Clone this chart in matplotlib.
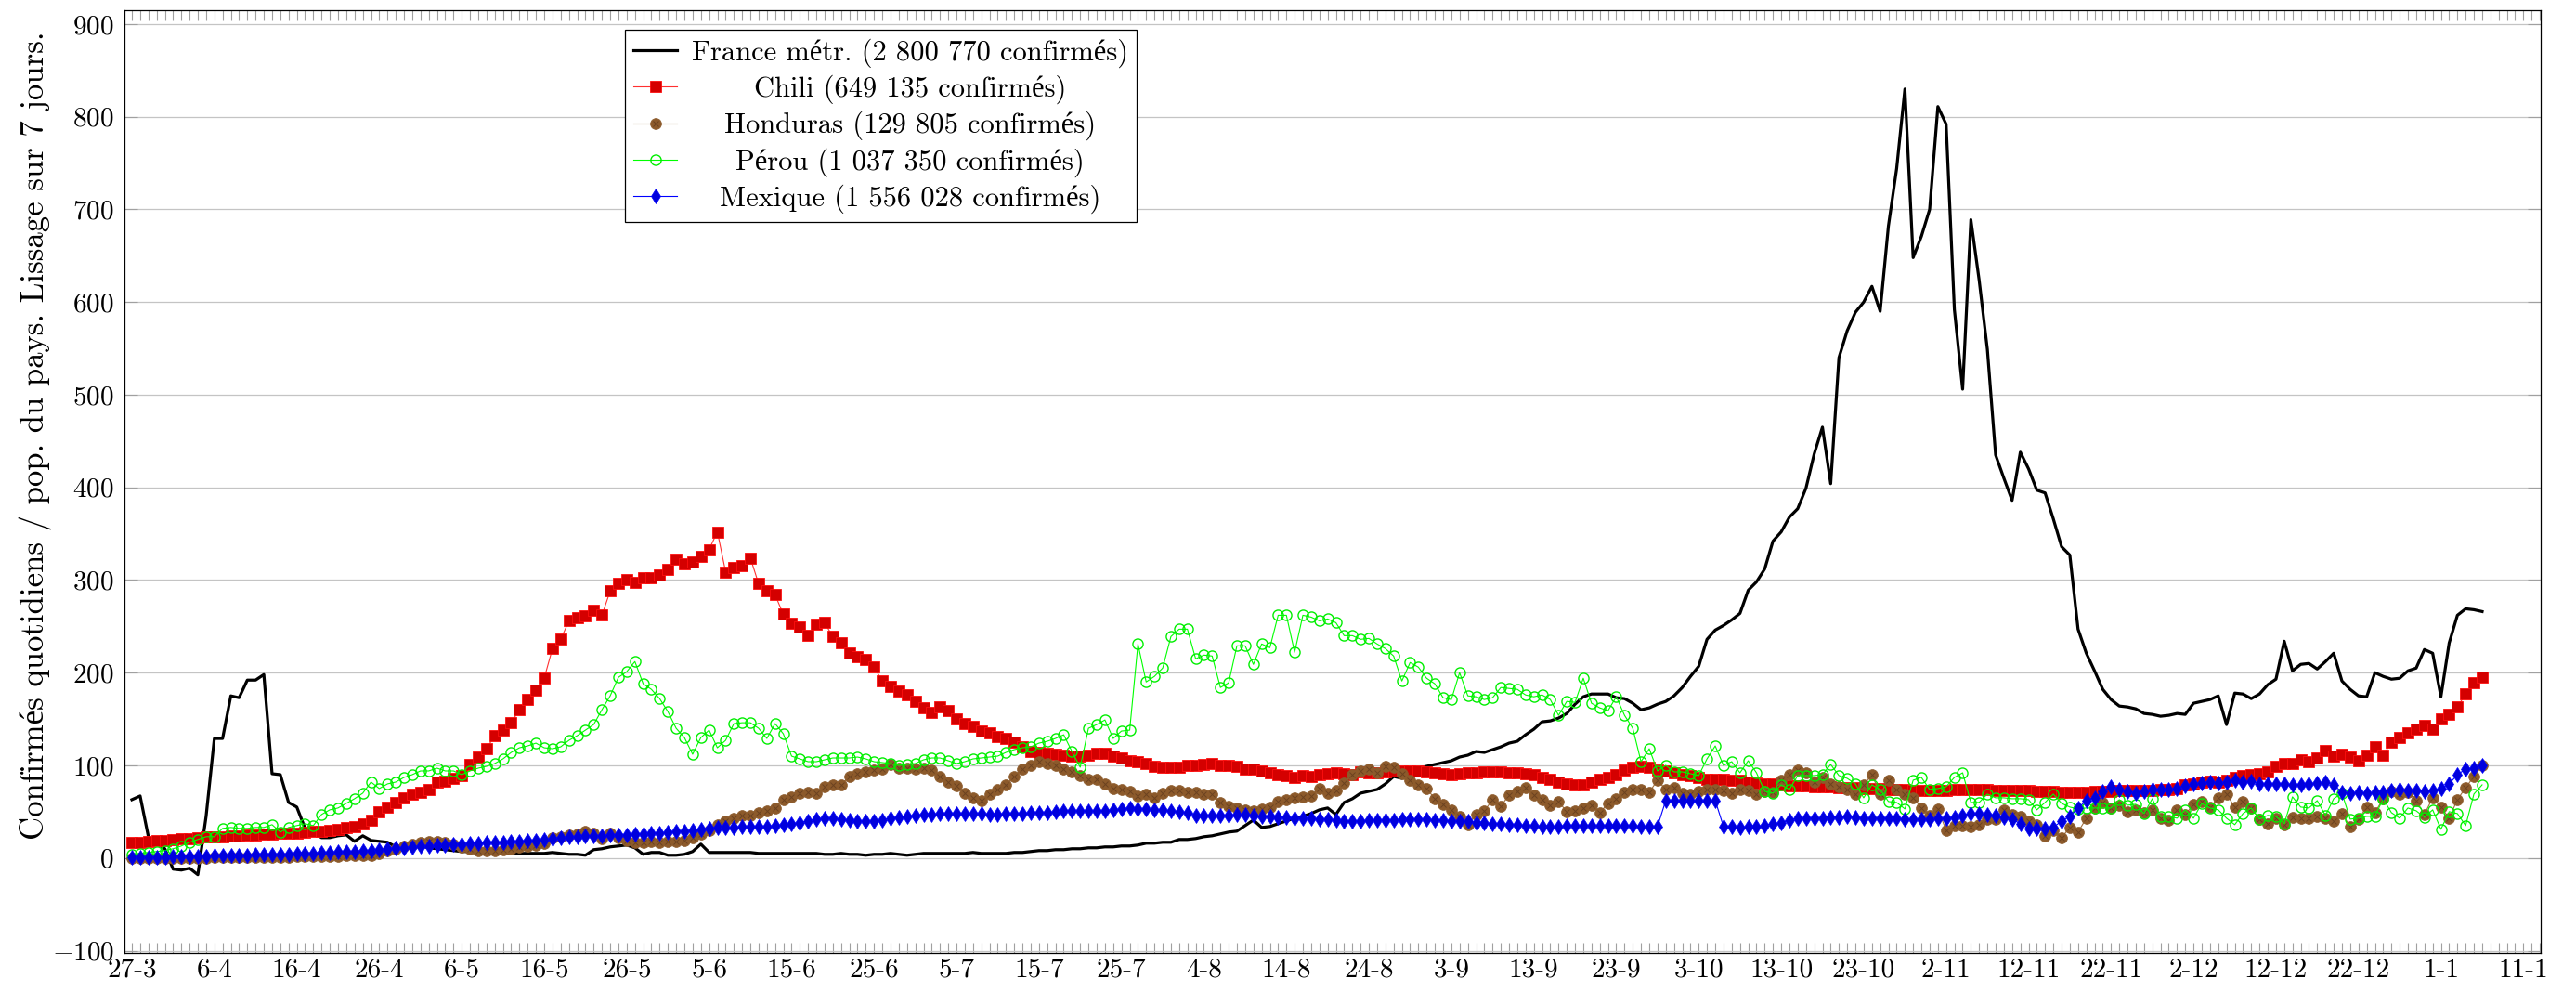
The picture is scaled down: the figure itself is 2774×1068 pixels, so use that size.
import matplotlib
matplotlib.use("Agg")
import matplotlib.pyplot as plt
import matplotlib.dates as mdates
import pandas as pd
from matplotlib.lines import Line2D
from matplotlib.legend_handler import HandlerTuple
from matplotlib.transforms import Affine2D

# daily values, 7-day smoothing, starting 27-3-2020
start = "2020-03-27"

france = [
    63, 67, 23, 16, 10, -12, -13, -11, -18, 45,
    129, 129, 175, 173, 192, 192, 198, 91, 90, 60,
    55, 32, 27, 22, 22, 24, 25, 18, 24, 19,
    18, 17, 12, 12, 14, 13, 11, 10, 9, 8,
    7, 7, 6, 6, 6, 6, 5, 5, 5, 5,
    5, 6, 5, 4, 4, 3, 9, 10, 12, 13,
    14, 11, 4, 6, 6, 3, 3, 4, 7, 15,
    6, 6, 6, 6, 6, 6, 5, 5, 5, 5,
    5, 5, 5, 5, 4, 4, 5, 4, 4, 3,
    4, 4, 5, 4, 3, 4, 5, 5, 5, 5,
    5, 5, 6, 5, 5, 5, 5, 6, 6, 7,
    8, 8, 9, 9, 10, 10, 11, 11, 12, 12,
    13, 13, 14, 16, 16, 17, 17, 20, 20, 21,
    23, 24, 26, 28, 29, 35, 41, 33, 34, 37,
    40, 43, 45, 48, 52, 54, 47, 60, 64, 70,
    72, 74, 80, 88, 86, 93, 97, 99, 101, 103,
    105, 109, 111, 115, 114, 117, 120, 124, 126, 133,
    139, 147, 148, 151, 156, 166, 174, 177, 177, 177,
    173, 172, 167, 160, 162, 166, 169, 175, 184, 196,
    207, 236, 246, 251, 257, 264, 289, 298, 312, 342,
    352, 368, 377, 399, 436, 465, 404, 540, 569, 589,
    600, 617, 590, 682, 744, 830, 648, 671, 700, 811,
    792, 592, 506, 689, 624, 549, 435, 410, 386, 438,
    420, 397, 394, 366, 336, 327, 247, 221, 202, 182,
    171, 164, 163, 161, 156, 155, 153, 154, 156, 155,
    167, 169, 171, 175, 144, 178, 177, 172, 177, 187,
    193, 234, 202, 209, 210, 204, 212, 221, 191, 182,
    175, 174, 200, 196, 193, 194, 202, 205, 225, 221,
    174, 232, 262, 269, 268, 266,
]

chili = [
    17, 17, 18, 19, 19, 20, 21, 21, 22, 23,
    23, 23, 24, 24, 25, 25, 26, 26, 27, 27,
    27, 28, 29, 29, 30, 31, 33, 34, 37, 41,
    50, 55, 60, 65, 69, 71, 74, 82, 83, 86,
    89, 101, 109, 118, 132, 138, 146, 160, 171, 181,
    194, 226, 236, 256, 259, 261, 267, 262, 288, 296,
    300, 297, 302, 302, 306, 312, 323, 318, 320, 326,
    333, 352, 309, 314, 316, 324, 296, 288, 284, 263,
    253, 249, 240, 252, 254, 239, 232, 221, 217, 214,
    206, 191, 185, 180, 176, 169, 162, 157, 163, 159,
    150, 145, 142, 137, 135, 131, 129, 125, 120, 115,
    114, 113, 112, 111, 110, 110, 111, 113, 113, 110,
    108, 105, 104, 102, 99, 98, 98, 98, 100, 100,
    101, 102, 100, 100, 99, 96, 96, 94, 92, 90,
    89, 87, 89, 88, 90, 91, 92, 91, 90, 93,
    92, 92, 93, 94, 94, 94, 94, 93, 92, 91,
    90, 91, 92, 92, 93, 93, 93, 92, 92, 91,
    90, 87, 85, 82, 80, 79, 79, 82, 85, 87,
    90, 95, 98, 99, 98, 95, 94, 92, 90, 89,
    87, 85, 85, 85, 84, 84, 82, 81, 80, 80,
    79, 78, 78, 78, 77, 77, 77, 76, 76, 76,
    75, 75, 75, 74, 74, 74, 73, 73, 73, 73,
    73, 74, 74, 74, 74, 74, 73, 73, 73, 73,
    73, 72, 72, 72, 71, 71, 71, 71, 72, 72,
    72, 73, 73, 73, 73, 73, 74, 74, 75, 79,
    80, 82, 83, 82, 84, 87, 89, 90, 91, 93,
    99, 102, 102, 106, 104, 108, 116, 110, 112, 109,
    105, 111, 120, 111, 125, 130, 135, 139, 143, 139,
    150, 155, 163, 177, 189, 195,
]

honduras = [
    0, 0, 0, 0, 0, 0, 0, 0, 0, 0,
    1, 1, 1, 1, 1, 1, 1, 1, 1, 1,
    2, 2, 2, 2, 2, 2, 3, 3, 3, 3,
    5, 8, 10, 13, 15, 17, 18, 18, 17, 15,
    12, 10, 8, 8, 8, 9, 10, 12, 13, 14,
    16, 22, 23, 25, 26, 29, 27, 21, 27, 22,
    19, 17, 17, 18, 17, 18, 18, 19, 22, 26,
    30, 36, 40, 43, 46, 46, 49, 51, 54, 63,
    66, 70, 71, 70, 77, 79, 79, 88, 91, 93,
    95, 96, 101, 97, 97, 96, 97, 95, 88, 82,
    78, 70, 65, 62, 69, 74, 79, 88, 96, 100,
    104, 102, 100, 96, 93, 89, 85, 85, 80, 75,
    74, 72, 67, 69, 65, 70, 73, 73, 71, 71,
    69, 69, 60, 56, 54, 52, 51, 53, 55, 61,
    63, 65, 66, 67, 75, 70, 73, 81, 90, 94,
    96, 92, 99, 98, 91, 84, 79, 75, 64, 58,
    52, 45, 36, 47, 51, 63, 56, 68, 72, 76,
    68, 63, 57, 61, 50, 51, 54, 57, 49, 59,
    64, 71, 74, 74, 71, 84, 74, 76, 70, 69,
    72, 74, 74, 73, 70, 74, 73, 69, 72, 71,
    84, 90, 95, 92, 82, 87, 80, 77, 74, 69,
    79, 90, 69, 84, 74, 69, 65, 54, 46, 53,
    30, 35, 35, 34, 36, 42, 42, 52, 47, 45,
    40, 36, 24, 30, 22, 33, 28, 43, 54, 60,
    54, 57, 50, 52, 49, 52, 43, 41, 52, 47,
    58, 61, 55, 65, 69, 55, 61, 54, 42, 37,
    43, 36, 44, 43, 43, 45, 43, 40, 48, 34,
    42, 55, 49, 64, 72, 69, 71, 62, 47, 65,
    55, 43, 63, 76, 88, 100,
]

perou = [
    4, 5, 6, 7, 8, 10, 13, 17, 20, 23,
    23, 32, 33, 32, 32, 33, 33, 36, 28, 33,
    35, 37, 35, 47, 52, 54, 59, 64, 70, 82,
    75, 80, 82, 87, 90, 94, 94, 97, 94, 94,
    90, 94, 97, 99, 102, 107, 114, 119, 121, 124,
    119, 118, 120, 127, 132, 138, 144, 160, 175, 195,
    201, 212, 188, 182, 172, 158, 140, 130, 112, 130,
    138, 119, 127, 145, 146, 146, 140, 129, 145, 134,
    110, 107, 104, 104, 106, 108, 108, 108, 109, 107,
    104, 103, 102, 100, 101, 102, 106, 108, 108, 105,
    102, 104, 107, 108, 109, 110, 114, 117, 119, 120,
    124, 126, 129, 133, 115, 98, 140, 144, 149, 129,
    137, 138, 231, 190, 196, 205, 239, 247, 247, 215,
    219, 218, 184, 189, 229, 229, 209, 231, 227, 262,
    262, 222, 262, 260, 256, 258, 254, 240, 240, 236,
    237, 231, 226, 218, 191, 211, 206, 194, 188, 173,
    171, 200, 175, 174, 171, 173, 184, 183, 182, 176,
    174, 176, 171, 154, 169, 168, 194, 167, 162, 159,
    174, 154, 140, 104, 118, 94, 100, 93, 93, 91,
    89, 107, 121, 100, 104, 92, 105, 92, 72, 70,
    79, 74, 89, 89, 89, 90, 101, 89, 86, 80,
    65, 79, 74, 61, 60, 53, 84, 87, 74, 75,
    77, 87, 92, 60, 60, 69, 65, 65, 64, 64,
    63, 52, 60, 69, 59, 55, 53, 54, 54, 54,
    54, 63, 57, 58, 48, 64, 45, 45, 43, 52,
    43, 59, 54, 52, 43, 36, 48, 54, 42, 46,
    45, 37, 66, 55, 54, 62, 46, 64, 70, 42,
    43, 45, 45, 64, 49, 43, 54, 51, 44, 52,
    31, 50, 48, 35, 69, 79,
]

mexique = [
    1, 1, 1, 1, 1, 2, 2, 2, 2, 2,
    3, 3, 3, 3, 3, 4, 4, 4, 4, 4,
    5, 5, 5, 6, 6, 7, 7, 7, 8, 8,
    9, 10, 11, 11, 12, 13, 13, 14, 14, 15,
    15, 16, 16, 17, 17, 17, 18, 18, 19, 19,
    20, 21, 22, 23, 23, 24, 24, 24, 25, 25,
    25, 26, 26, 27, 27, 28, 29, 29, 30, 31,
    32, 33, 33, 33, 34, 34, 34, 34, 35, 36,
    37, 38, 40, 42, 43, 43, 42, 41, 40, 40,
    40, 41, 43, 44, 45, 46, 47, 47, 48, 48,
    48, 48, 48, 48, 47, 47, 48, 48, 48, 49,
    49, 49, 50, 51, 51, 51, 51, 51, 51, 52,
    53, 54, 53, 53, 52, 52, 51, 50, 49, 46,
    46, 46, 46, 46, 47, 47, 46, 45, 45, 44,
    44, 43, 43, 43, 42, 42, 41, 40, 40, 40,
    41, 41, 41, 41, 42, 42, 42, 42, 41, 41,
    40, 40, 40, 38, 38, 37, 37, 36, 36, 35,
    35, 34, 34, 34, 35, 35, 35, 35, 35, 35,
    35, 35, 35, 34, 34, 34, 62, 62, 62, 62,
    62, 62, 62, 34, 34, 33, 34, 34, 35, 37,
    38, 41, 43, 43, 43, 43, 44, 44, 45, 44,
    43, 43, 43, 43, 43, 42, 42, 42, 42, 43,
    43, 44, 46, 48, 48, 47, 46, 44, 42, 37,
    32, 32, 32, 33, 40, 45, 54, 62, 65, 72,
    77, 74, 72, 70, 72, 74, 74, 74, 75, 78,
    80, 81, 82, 81, 82, 84, 82, 83, 80, 80,
    80, 80, 79, 79, 80, 81, 82, 79, 71, 70,
    71, 70, 71, 71, 73, 74, 73, 73, 72, 73,
    75, 80, 90, 96, 97, 100,
]

labels = [
    "France métr. (2 800 770 confirmés)",
    "Chili (649 135 confirmés)",
    "Honduras (129 805 confirmés)",
    "Pérou (1 037 350 confirmés)",
    "Mexique (1 556 028 confirmés)",
]
ylabel = "Confirmés quotidiens / pop. du pays. Lissage sur 7 jours."
tick_dates = pd.date_range("2020-03-27", "2021-01-11", freq="10D")
yticks = list(range(-100, 901, 100))

plt.rcParams["font.family"] = ["cmr10", "Liberation Serif"]
plt.rcParams["mathtext.fontset"] = "cm"
plt.rcParams["axes.formatter.use_mathtext"] = True

dates = pd.date_range(start, periods=len(france), freq="D")

W, H = 2774, 1068
fig = plt.figure(figsize=(W / 100, H / 100), dpi=100)
ax = fig.add_axes([134 / W, 1 - 1026 / H, (2736 - 134) / W, (1026 - 11) / H])

brown = "#8c5a2b"
red_kw = dict(color="#ff3030", lw=0.8, marker="s", ms=8.5, mfc="#d40000", mec="#ff1010", mew=0.6)
hon_kw = dict(color="#a0703f", lw=0.8, marker="o", ms=8.5, mfc=brown, mec=brown, mew=0.5)
hx_kw = dict(ls="none", marker="x", ms=5, mec="#6b4220", mew=0.7)
per_kw = dict(color="#00ff00", lw=0.8, marker="o", ms=8, mfc="none", mec="#00ee00", mew=1.0)
mex_kw = dict(color="#0000ff", lw=0.8, marker="d", ms=8.5, mfc="#0000dd", mec="#0000ff", mew=0.5)

ax.plot(dates, france, color="black", lw=2.3, zorder=3)
ax.plot(dates, chili, zorder=4, **red_kw)
ax.plot(dates, honduras, zorder=5, **hon_kw)
ax.plot(dates, honduras, zorder=5, **hx_kw)
ax.plot(dates, perou, zorder=6, **per_kw)
ax.plot(dates, mexique, zorder=7, **mex_kw)

t0 = pd.Timestamp(start)
ax.set_xlim(t0 - pd.Timedelta(days=0.9), t0 + pd.Timedelta(days=292.1))
ax.set_ylim(-102.5, 915)

ax.set_xticks(tick_dates)
ax.set_xticklabels([f"{d.day}-{d.month}" for d in tick_dates])
ax.xaxis.set_minor_locator(mdates.DayLocator())
ax.set_yticks(yticks)

ax.tick_params(axis="x", which="both", direction="in", top=True, bottom=True,
               length=8, color="#a0a0a0", width=0.8, labelsize=21, pad=4)
ax.tick_params(axis="y", which="major", direction="in", left=True, right=True,
               length=10, color="#a0a0a0", width=0.8, labelsize=21, pad=8)
ax.yaxis.grid(True, color="#c4c4c4", lw=0.9)
ax.set_axisbelow(True)
for s in ax.spines.values():
    s.set_linewidth(0.9)

ax.set_ylabel(ylabel, fontsize=25)
ax.yaxis.set_label_coords(-0.030, 0.549)

h_fr = Line2D([], [], color="black", lw=2.3)
h_ch = Line2D([], [], **red_kw)
h_ho = (Line2D([], [], **hon_kw), Line2D([], [], **hx_kw))
h_pe = Line2D([], [], **per_kw)
h_me = Line2D([], [], **mex_kw)

leg = ax.legend([h_fr, h_ch, h_ho, h_pe, h_me], labels,
                handler_map={tuple: HandlerTuple(ndivide=1, pad=0)},
                loc="upper left", bbox_to_anchor=(0.2071, 0.9793), borderaxespad=0,
                fancybox=False, edgecolor="black", framealpha=1, fontsize=22,
                handlelength=1.55, handletextpad=0.5, labelspacing=0.26, borderpad=0.3)
leg.get_frame().set_linewidth(0.9)

# centre the legend texts like the original
fig.canvas.draw()
r = fig.canvas.get_renderer()
widths = [t.get_window_extent(r).width for t in leg.get_texts()]
wmax = max(widths)
for t, w in zip(leg.get_texts(), widths):
    t.set_transform(t.get_transform() + Affine2D().translate((wmax - w) / 2, 0))

fig.savefig("out.png", dpi=100)
